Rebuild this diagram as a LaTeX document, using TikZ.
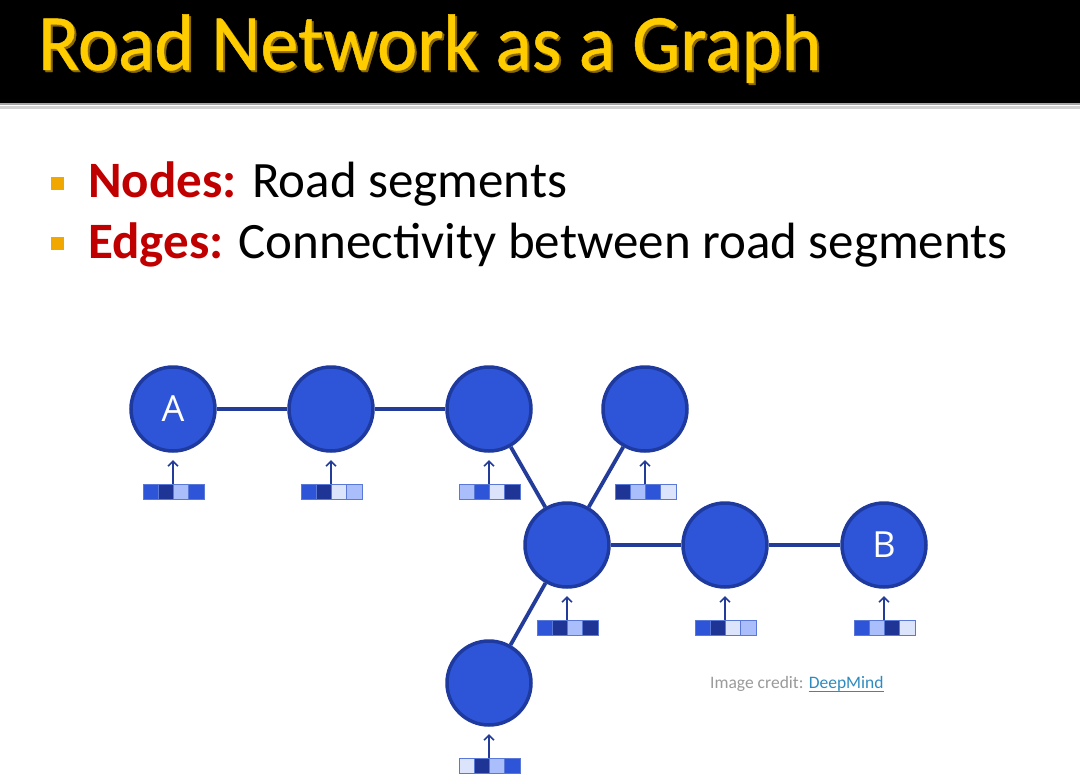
\documentclass[tikz,border=0pt]{standalone}
\usepackage{fontspec}
\setmainfont{Carlito}
\newfontfamily\letterfont{Open Sans}
\newfontfamily\titlefont[FakeStretch=0.95,FakeBold=0.6]{Carlito}
\usetikzlibrary{arrows.meta}
\definecolor{hdr}{HTML}{000000}
\definecolor{titley}{HTML}{FFCC00}
\definecolor{titleshadow}{HTML}{8A6A00}
\definecolor{bulletc}{HTML}{F0A800}
\definecolor{redc}{HTML}{C00000}
\definecolor{nodefill}{HTML}{2E55D8}
\definecolor{nodeline}{HTML}{1F3A9E}
\definecolor{edgec}{HTML}{233C9A}
\definecolor{cmed}{HTML}{2E55D8}
\definecolor{cdark}{HTML}{1F3596}
\definecolor{clight}{HTML}{A9BEFA}
\definecolor{cvlight}{HTML}{DCE4FC}
\definecolor{cellline}{HTML}{5A78D8}
\definecolor{creditgray}{HTML}{9A9A9A}
\definecolor{linkc}{HTML}{2E8BC0}
\tikzset{
  road/.style={circle,draw=nodeline,line width=3.5pt,fill=nodefill,minimum size=84pt,inner sep=0pt,text=white,font=\letterfont\fontsize{36}{36}\selectfont},
  edge/.style={draw=edgec,line width=3.8pt},
  cell/.style={draw=cellline,line width=1pt,minimum width=15.25pt,minimum height=15pt,inner sep=0pt},
  feat/.style={draw=edgec,line width=1.6pt,-{Straight Barb[length=5pt,width=10pt,line width=1.6pt]}},
  bul/.style={fill=bulletc,minimum size=13pt,inner sep=0pt},
  body/.style={anchor=base west,inner sep=0pt,font=\fontsize{51}{51}\selectfont},
}
\begin{document}
\begin{tikzpicture}[x=1pt,y=-1pt]
\useasboundingbox (0,0) rectangle (1080,780);
\fill[white] (0,0) rectangle (1080,780);
% header
\fill[hdr] (0,0) rectangle (1080,103);
\fill[gray!70] (0,103) rectangle (1080,105);
\fill[gray!35] (0,106) rectangle (1080,109);
\node[anchor=base west,text=titleshadow,font=\titlefont\fontsize{80}{80}\selectfont,inner sep=0pt] (titles) at (40,72) {Road Network as a Graph};
\node[anchor=base west,text=titley,font=\titlefont\fontsize{80}{80}\selectfont,inner sep=0pt] (title) at (38,70) {Road Network as a Graph};
% bullets
\node[bul] (b1) at (57,183) {};
\node[bul] (b2) at (57,243) {};
\node[body] (t1) at (88,197) {\textcolor{redc}{\bfseries Nodes:} Road segments};
\node[body] (t2) at (88,258) {\textcolor{redc}{\bfseries Edges:} Connectivity between road segments};
% graph nodes
\node[road] (A) at (173,409) {A};
\node[road] (n2) at (331,409) {};
\node[road] (n3) at (489,409) {};
\node[road] (n4) at (645,409) {};
\node[road] (C) at (567,545) {};
\node[road] (n6) at (725,545) {};
\node[road] (B) at (884,545) {B};
\node[road] (n8) at (489,683) {};
% edges
\path[edge] (A) -- (n2);
\path[edge] (n2) -- (n3);
\path[edge] (n3) -- (C);
\path[edge] (n4) -- (C);
\path[edge] (C) -- (n6);
\path[edge] (n6) -- (B);
\path[edge] (C) -- (n8);
% feature bars
\foreach \nm/\cx/\cy/\ca/\cb/\cc/\cd in {
  A/173/409/cmed/cdark/clight/cmed,
  n2/331/409/cmed/cdark/cvlight/clight,
  n3/489/409/clight/cmed/cvlight/cdark,
  n4/645/409/cdark/clight/cmed/cvlight,
  C/567/545/cmed/cdark/clight/cdark,
  n6/725/545/cmed/cdark/cvlight/clight,
  B/884/545/cmed/clight/cdark/cvlight,
  n8/489/683/cvlight/cdark/clight/cmed}{
  \node[cell,fill=\ca,anchor=north west] (\nm f1) at (\cx-30.5,\cy+74.5) {};
  \node[cell,fill=\cb,anchor=north west] (\nm f2) at (\cx-15.25,\cy+74.5) {};
  \node[cell,fill=\cc,anchor=north west] (\nm f3) at (\cx,\cy+74.5) {};
  \node[cell,fill=\cd,anchor=north west] (\nm f4) at (\cx+15.25,\cy+74.5) {};
  \coordinate (\nm tip) at (\cx,\cy+51);
  \draw[feat] (\nm f3.north west) -- (\nm tip);
}
% credit
\node[anchor=base west,inner sep=0pt,font=\fontsize{17.5}{17.5}\selectfont,text=creditgray] (credit) at (710,688) {Image credit:};
\node[anchor=base west,inner sep=0pt,font=\fontsize{17.5}{17.5}\selectfont,text=linkc] (link) at ([xshift=5pt]credit.base east) {DeepMind};
\draw[linkc,line width=0.9pt] ([yshift=-3pt]link.base west) -- ([yshift=-3pt]link.base east);
\end{tikzpicture}
\end{document}
